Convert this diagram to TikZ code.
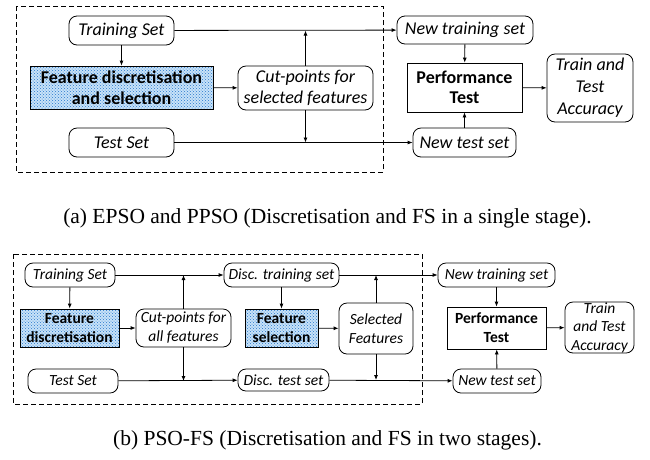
\documentclass[tikz,border=0pt]{standalone}
\usepackage{fontspec}
\setmainfont{Liberation Serif}
\newfontfamily\boxfont{Carlito}
\usetikzlibrary{arrows.meta, patterns}
\definecolor{featfill}{RGB}{200,226,248}
\definecolor{featdots}{RGB}{40,120,205}
\newcommand{\sza}{\fontsize{18}{20.5}\selectfont}
\newcommand{\szb}{\fontsize{15.5}{19}\selectfont}
\tikzset{
	rbox/.style = {draw, rounded corners = 8pt, align = center, inner sep = 0pt, font = \boxfont\itshape#1},
	sbox/.style = {draw, align = center, inner sep = 0pt, font = \boxfont\bfseries#1},
	fbox/.style = {sbox = #1, preaction = {fill = featfill}, pattern = crosshatch dots, pattern color = featdots},
	arr/.style = {-{Latex[length = 5pt, width = 4pt]}}
}
\begin{document}
\begin{tikzpicture}[x = 1pt, y = -1pt, line width = 0.8pt]
	\useasboundingbox (0,0) rectangle (650,459);
	% (a) single stage
	\node[rbox = \sza, minimum width = 105, minimum height = 29] (tr) at (121.5,30.5) {Training Set};
	\node[fbox = \sza, minimum width = 183, minimum height = 43] (fds) at (121.5,87.5) {Feature discretisation\\and selection};
	\node[rbox = \sza, minimum width = 135, minimum height = 44] (cut) at (305.5,88) {Cut-points for\\selected features};
	\node[rbox = \sza, minimum width = 105, minimum height = 29] (ts) at (121.5,142.5) {Test Set};
	\node[rbox = \sza, minimum width = 136, minimum height = 28] (ntr) at (465,30) {New training set};
	\node[sbox = \sza, minimum width = 115, minimum height = 49] (perf) at (464.5,87.5) {Performance\\Test};
	\node[rbox = \fontsize{18}{22}\selectfont, minimum width = 86, minimum height = 68] (acc) at (590,88) {Train and\\Test\\Accuracy};
	\node[rbox = \sza, minimum width = 103, minimum height = 29] (nts) at (464.5,142.5) {New test set};
	\draw[dash pattern = on 5pt off 3pt] (16,6) rectangle (383,172);
	\draw[arr] (tr) -- (fds);
	\draw[arr] (fds) -- (cut);
	\draw[arr] (tr) -- (ntr);
	\draw[arr] (ts) -- (nts);
	\draw[arr] (cut.north) -- (cut.north |- tr.east);
	\draw[arr] (cut.south) -- (cut.south |- ts.east);
	\draw[arr] (ntr) -- (perf);
	\draw[arr] (nts) -- (perf);
	\draw[arr] (perf) -- (acc);
	\node[font = \fontsize{21.5}{24}\selectfont] (capa) at (327.5,218) {(a) EPSO and PPSO (Discretisation and FS in a single stage).};
	% (b) two stages
	\node[rbox = \szb, minimum width = 90, minimum height = 24] (tr2) at (70,275) {Training Set};
	\node[fbox = \szb, minimum width = 99, minimum height = 38] (fd2) at (69.5,328) {Feature\\discretisation};
	\node[rbox = \szb, minimum width = 95, minimum height = 38] (cut2) at (183.5,328) {Cut-points for\\all features};
	\node[rbox = \szb, minimum width = 90, minimum height = 24] (ts2) at (73,381) {Test Set};
	\node[rbox = \szb, minimum width = 115, minimum height = 24] (dtr) at (281.5,275) {Disc. training set};
	\node[fbox = \szb, minimum width = 73, minimum height = 38] (fs2) at (281.5,328) {Feature\\selection};
	\node[rbox = \szb, minimum width = 91, minimum height = 22] (dts) at (283.5,380) {Disc. test set};
	\node[rbox = \szb, minimum width = 74, minimum height = 51] (sel) at (376,328.5) {Selected\\Features};
	\node[rbox = \szb, minimum width = 117, minimum height = 24] (ntr2) at (496.5,275) {New training set};
	\node[sbox = \szb, minimum width = 99, minimum height = 42] (perf2) at (496.5,328) {Performance\\Test};
	\node[rbox = \szb, minimum width = 88, minimum height = 24] (nts2) at (497,381) {New test set};
	\node[rbox = \fontsize{15.5}{18.5}\selectfont, minimum width = 69, minimum height = 51] (acc2) at (599.5,327.5) {Train\\and Test\\Accuracy};
	\draw[dash pattern = on 5pt off 3pt] (13,254) rectangle (422,404);
	\draw[arr] (tr2) -- (fd2);
	\draw[arr] (fd2) -- (cut2);
	\draw[arr] (tr2) -- (dtr);
	\draw[arr] (ts2) -- (dts);
	\draw[arr] (cut2.north) -- (cut2.north |- tr2.east);
	\draw[arr] (cut2.south) -- (cut2.south |- ts2.east);
	\draw[arr] (dtr) -- (fs2);
	\draw[arr] (fs2) -- (sel);
	\draw[arr] (sel.north) -- (sel.north |- dtr.east);
	\draw[arr] (sel.south) -- (sel.south |- dts.east);
	\draw[arr] (dtr) -- (ntr2);
	\draw[arr] (dts) -- (nts2);
	\draw[arr] (ntr2) -- (perf2);
	\draw[arr] (nts2) -- (perf2);
	\draw[arr] (perf2) -- (acc2);
	\node[font = \fontsize{21.5}{24}\selectfont] (capb) at (327.5,440) {(b) PSO-FS (Discretisation and FS in two stages).};
\end{tikzpicture}
\end{document}
